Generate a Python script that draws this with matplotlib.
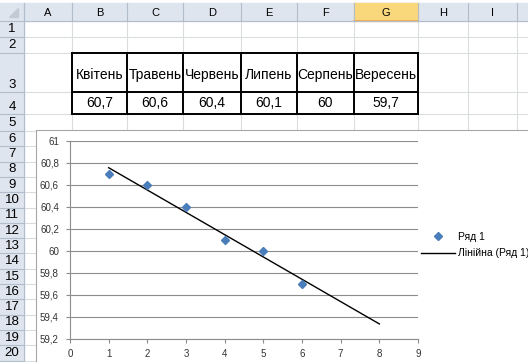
import numpy as np
import matplotlib
matplotlib.use('Agg')
import matplotlib.pyplot as plt
from matplotlib.patches import Rectangle, Polygon
from matplotlib.ticker import FuncFormatter, MultipleLocator

plt.rcParams['font.family'] = ['Liberation Sans', 'DejaVu Sans']

# data from the sheet
months = ['Квітень', 'Травень', 'Червень', 'Липень', 'Серпень', 'Вересень']
values = [60.7, 60.6, 60.4, 60.1, 60, 59.7]
periods = [1, 2, 3, 4, 5, 6]
forecast = 2  # trendline goes 2 periods ahead

col_letters = ['A', 'B', 'C', 'D', 'E', 'F', 'G', 'H', 'I', '']
row_numbers = list(range(1, 21))


def comma(v, pos=None):
    return f'{v:g}'.replace('.', ',')


W, H = 528, 362
fig = plt.figure(figsize=(W / 100, H / 100), dpi=100)
bg = fig.add_axes([0, 0, 1, 1])
bg.set_xlim(0, W)
bg.set_ylim(H, 0)
bg.axis('off')

# sheet geometry (pixels)
col_edges = [24, 72, 127, 183, 241, 297, 354, 418, 468, 517, 560]
hdr_top, hdr_bot = 3, 21
row_bots = [37, 53, 92, 114, 131] + [131 + 15.3 * k for k in range(1, 16)]
row_tops = [hdr_bot] + row_bots[:-1]
grid_c = '#DADCDD'
hdr_c = '#DFE5EE'
hdr_line = '#B2BDCB'

# cell gridlines
for x in col_edges:
    bg.plot([x, x], [hdr_bot, H], color=grid_c, lw=0.8, zorder=1)
for y in row_bots:
    bg.plot([24, W], [y, y], color=grid_c, lw=0.8, zorder=1)

# column headers
bg.add_patch(Rectangle((0, hdr_top), W, hdr_bot - hdr_top, color=hdr_c, zorder=2))
for i, letter in enumerate(col_letters):
    x0, x1 = col_edges[i], col_edges[i + 1]
    if letter == 'G':
        bg.add_patch(Rectangle((x0, hdr_top), x1 - x0, hdr_bot - hdr_top,
                               color='#F9D87C', zorder=2.5))
        bg.plot([x0, x1], [hdr_bot - 0.5, hdr_bot - 0.5], color='#F0A848', lw=1.2, zorder=3)
    bg.plot([x0, x0], [hdr_top, hdr_bot], color=hdr_line, lw=0.8, zorder=3)
    bg.text((x0 + x1) / 2, (hdr_top + hdr_bot) / 2 + 0.5, letter, ha='center', va='center',
            fontsize=8, zorder=4)
bg.plot([0, W], [hdr_bot, hdr_bot], color=hdr_line, lw=0.8, zorder=3)
bg.add_patch(Polygon([[18, 8], [18, 17], [9, 17]], closed=True, color='#C3CAD3', zorder=3))

# row headers
bg.add_patch(Rectangle((0, hdr_bot), 24, H - hdr_bot, color=hdr_c, zorder=2))
bg.plot([24, 24], [hdr_top, H], color=hdr_line, lw=0.8, zorder=3)
for r, top, bot in zip(row_numbers, row_tops, row_bots):
    bg.plot([0, 24], [bot, bot], color=hdr_line, lw=0.8, zorder=3)
    bg.text(12, bot - 7.5, str(r), ha='center', va='center', fontsize=9.5, zorder=4)

# the table B3:G4
t_left, t_right = col_edges[1], col_edges[7]
t_top, t_mid, t_bot = row_bots[1], row_bots[2], row_bots[3]
for y in [t_top, t_mid, t_bot]:
    bg.plot([t_left, t_right], [y, y], color='black', lw=1.4, zorder=5)
for x in col_edges[1:8]:
    bg.plot([x, x], [t_top, t_bot], color='black', lw=1.4, zorder=5)
for i, (m, v) in enumerate(zip(months, values)):
    xc = (col_edges[i + 1] + col_edges[i + 2]) / 2
    bg.text(xc, 79, m, ha='center', va='baseline', fontsize=10, zorder=6)
    bg.text(xc, 107, comma(v), ha='center', va='baseline', fontsize=10, zorder=6)

# chart area
bg.add_patch(Rectangle((36, 130), 600, 300, facecolor='white', edgecolor='#A6A6A6',
                       lw=0.8, zorder=7))

# plot area
ax = fig.add_axes([70 / W, 1 - 339 / H, 348 / W, 198 / H])
ax.set_facecolor('white')
ax.set_xlim(0, 9)
ax.set_ylim(59.2, 61)
ax.yaxis.set_major_locator(MultipleLocator(0.2))
ax.xaxis.set_major_locator(MultipleLocator(1))
ax.yaxis.set_major_formatter(FuncFormatter(comma))
ax.grid(axis='y', color='#8C8C8C', lw=0.8)
ax.set_axisbelow(True)
for s in ['top', 'right']:
    ax.spines[s].set_visible(False)
for s in ['left', 'bottom']:
    ax.spines[s].set_color('#8C8C8C')
    ax.spines[s].set_linewidth(0.8)
ax.tick_params(axis='both', colors='#8C8C8C', labelcolor='#333333', labelsize=7,
               length=3, width=0.8, direction='out')
ax.tick_params(axis='y', pad=5)
ax.tick_params(axis='x', pad=4)

ax.plot(periods, values, 'D', color='#4A7EBB', markersize=4.5, label='Ряд 1', zorder=4)

slope, icpt = np.polyfit(periods, values, 1)
tx = np.array([periods[0], periods[-1] + forecast])
ax.plot(tx, slope * tx + icpt, color='black', lw=1, label='Лінійна (Ряд 1)', zorder=3)

fig.legend(loc='upper left', bbox_to_anchor=(421 / W, 1 - 232 / H), frameon=False,
           fontsize=7.5, handlelength=3.3, handletextpad=0.25, labelspacing=0.6,
           borderpad=0, borderaxespad=0)

fig.savefig('out.png', dpi=100)
